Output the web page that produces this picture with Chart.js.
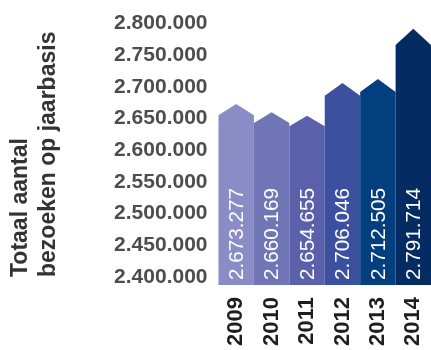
<!DOCTYPE html>
<html>
<head>
<meta charset="utf-8">
<style>
  html, body { margin: 0; padding: 0; background: #ffffff; }
  #wrap { width: 431px; height: 350px; position: relative; }
</style>
<script src="https://cdn.jsdelivr.net/npm/chart.js@4/dist/chart.umd.min.js"></script>
</head>
<body>
<div id="wrap"><canvas id="c"></canvas></div>
<script>
// Jaren en totaal aantal bezoeken per jaar
const years = ['2009', '2010', '2011', '2012', '2013', '2014'];
const visits = [2673277, 2660169, 2654655, 2706046, 2712505, 2791714];
const barColors = ['#8a8cc5', '#7075b6', '#5a60aa', '#3b509f', '#033e7e', '#052b63'];
const yAxisTitle = ['Totaal aantal', 'bezoeken op jaarbasis'];
const yMin = 2400000, yMax = 2800000, yStep = 50000;

const FONT = "'Liberation Sans', Arial, Helvetica, sans-serif";

// Getal met punten als duizendtalscheiding
function fmt(n) {
  return String(Math.round(n)).replace(/\B(?=(\d{3})+(?!\d))/g, '.');
}

// Tekent elke staaf als pijl naar boven, met de waarde verticaal erin
const arrowBars = {
  id: 'arrowBars',
  beforeDatasetDraw(chart, args) {
    const ctx = chart.ctx;
    const meta = args.meta;
    const ds = chart.data.datasets[args.index];
    const yScale = chart.scales.y;
    // staven lopen iets door onder de laagste waarde van de as
    const foot = yScale.getPixelForValue(yMin) + 8;
    meta.data.forEach((bar, i) => {
      const { x, width } = bar.getProps(['x', 'width'], true);
      const y = yScale.getPixelForValue(ds.data[i]);
      const half = width / 2;
      const head = (foot - y) * 0.063;
      ctx.save();
      ctx.fillStyle = ds.backgroundColor[i];
      ctx.beginPath();
      ctx.moveTo(x - half, foot);
      ctx.lineTo(x - half, y + head);
      ctx.lineTo(x, y);
      ctx.lineTo(x + half, y + head);
      ctx.lineTo(x + half, foot);
      ctx.closePath();
      ctx.fill();

      ctx.translate(x, foot - 5);
      ctx.rotate(-Math.PI / 2);
      ctx.fillStyle = '#ffffff';
      ctx.font = '20.7px ' + FONT;
      ctx.textAlign = 'left';
      ctx.textBaseline = 'middle';
      ctx.fillText(fmt(ds.data[i]), 0, 1);
      ctx.restore();
    });
    return false;
  }
};

new Chart(document.getElementById('c'), {
  type: 'bar',
  data: {
    labels: years,
    datasets: [{
      data: visits,
      backgroundColor: barColors,
      borderWidth: 0,
      barPercentage: 1,
      categoryPercentage: 1
    }]
  },
  plugins: [arrowBars],
  options: {
    responsive: true,
    maintainAspectRatio: false,
    animation: false,
    layout: { padding: { top: 22, right: 0, bottom: 0, left: 6 } },
    plugins: {
      legend: { display: false },
      tooltip: { enabled: false }
    },
    scales: {
      x: {
        grid: { display: false, drawTicks: false },
        border: { display: false },
        // staven tot aan de rechterrand, jaartallen onder de as
        afterFit(scale) {
          scale.paddingRight = 0;
          scale.height = 73;
        },
        ticks: {
          minRotation: 90,
          maxRotation: 90,
          padding: 20,
          color: '#1e1e1e',
          font: { family: FONT, size: 22, weight: 'bold' }
        }
      },
      y: {
        min: yMin,
        max: yMax,
        grid: { display: false, drawTicks: false },
        border: { display: false },
        ticks: {
          stepSize: yStep,
          padding: 11,
          color: '#4d4d4d',
          font: { family: FONT, size: 21, weight: 'bold' },
          callback: (v) => fmt(v)
        },
        title: {
          display: true,
          text: yAxisTitle,
          align: 'start',
          color: '#333333',
          padding: { top: 0, bottom: 40 },
          font: { family: FONT, size: 23, weight: 'bold', lineHeight: 1.25 }
        }
      }
    }
  }
});
</script>
</body>
</html>
